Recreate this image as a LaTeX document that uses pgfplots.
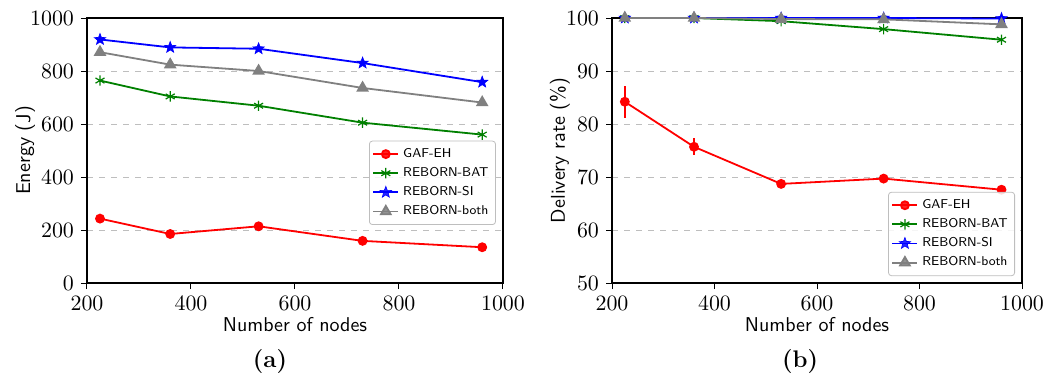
\documentclass[border=0pt]{standalone}
\usepackage{pgfplots}
\pgfplotsset{compat=1.18}
\usetikzlibrary{plotmarks}

\definecolor{mplred}{RGB}{255,0,0}
\definecolor{mplgreen}{RGB}{0,128,0}
\definecolor{mplblue}{RGB}{0,0,255}
\definecolor{mplgray}{RGB}{128,128,128}
\definecolor{gridgray}{RGB}{190,190,190}

% filled five-pointed star
\pgfdeclareplotmark{fstar}{%
  \pgfpathmoveto{\pgfqpointpolar{90}{\pgfplotmarksize}}%
  \foreach \a in {1,...,9}{%
    \pgfmathsetmacro\ang{90+36*\a}%
    \ifodd\a
      \pgfpathlineto{\pgfqpointpolar{\ang}{0.42\pgfplotmarksize}}%
    \else
      \pgfpathlineto{\pgfqpointpolar{\ang}{\pgfplotmarksize}}%
    \fi}%
  \pgfpathclose
  \pgfusepathqfillstroke}

\pgfplotsset{
  common/.style={
    scale only axis,
    width=208pt, height=132.5pt,
    xmin=200, xmax=1000,
    xtick={200,400,600,800,1000},
    axis line style={line width=0.6pt},
    tick align=outside,
    xtick pos=bottom, ytick pos=left,
    major tick length=3pt,
    tick style={black, line width=0.5pt},
    tick label style={font=\fontsize{11}{13}\selectfont},
    /pgf/number format/1000 sep={},
    label style={font=\sffamily\fontsize{10}{12}\selectfont},
    xlabel style={at={(axis description cs:0.5,-0.128)}, anchor=north, inner sep=0pt},
    ymajorgrids,
    major grid style={gridgray, dashed, line width=0.5pt},
    clip=false,
    legend cell align=left,
    legend style={font=\sffamily\fontsize{6.4}{7.7}\selectfont,
      draw=gridgray, rounded corners=1.5pt, fill=white, fill opacity=0.85,
      text opacity=1, inner sep=1.5pt, row sep=-0.5pt},
    legend image code/.code={
      \draw[mark repeat=2,mark phase=2] plot coordinates {(0cm,0cm) (0.22cm,0cm) (0.44cm,0cm)};},
  },
  gaf/.style={color=mplred, line width=0.9pt, mark=*, mark size=2pt},
  bat/.style={color=mplgreen, line width=0.9pt, mark=asterisk, mark size=2.6pt, mark options={line width=0.6pt}},
  si/.style={color=mplblue, line width=0.9pt, mark=fstar, mark size=3pt, mark options={fill=mplblue, line width=0.3pt}},
  both/.style={color=mplgray, line width=0.9pt, mark=triangle*, mark size=2.8pt},
}

\begin{document}
\begin{tikzpicture}
% (a) energy consumption
\begin{axis}[common, at={(0,0)},
  ymin=0, ymax=1000, ytick={0,200,400,600,800,1000},
  xlabel={Number of nodes}, ylabel={Energy (J)},
  ylabel style={at={(axis description cs:-0.149,0.5)}, anchor=center},
  legend style={at={(0.983,0.219)}, anchor=south east}]
\addplot[gaf] coordinates {(225,243) (360,185) (530,214) (730,159) (960,135)};
\addlegendentry{GAF-EH}
\addplot[bat] coordinates {(225,764) (360,704) (530,669) (730,605) (960,560)};
\addlegendentry{REBORN-BAT}
\addplot[si] coordinates {(225,919) (360,889) (530,884) (730,830) (960,758)};
\addlegendentry{REBORN-SI}
\addplot[both] coordinates {(225,871) (360,824) (530,800) (730,736) (960,681)};
\addlegendentry{REBORN-both}
\end{axis}
\node[font=\bfseries\fontsize{12}{14}\selectfont] at (91.5pt,-39.5pt) {(a)};

% (b) delivery rate
\begin{axis}[common, at={(262.5pt,0)}, width=205pt,
  ymin=50, ymax=100, ytick={50,60,70,80,90,100},
  xlabel={Number of nodes}, ylabel={Delivery rate (\%)},
  ylabel style={at={(axis description cs:-0.127,0.5)}, anchor=center},
  legend style={at={(0.983,0.026)}, anchor=south east}]
\addplot[gaf, error bars/.cd, y dir=both, y explicit,
  error bar style={line width=0.9pt}, error mark=none]
  coordinates {(225,84.2) +- (0,3.0) (360,75.7) +- (0,1.6) (530,68.7) +- (0,0.3) (730,69.7) +- (0,0.45) (960,67.6) +- (0,0.35)};
\addlegendentry{GAF-EH}
\addplot[bat] coordinates {(225,100) (360,100) (530,99.4) (730,97.9) (960,95.9)};
\addlegendentry{REBORN-BAT}
\addplot[si] coordinates {(225,100) (360,100) (530,100) (730,100) (960,99.9)};
\addlegendentry{REBORN-SI}
\addplot[both] coordinates {(225,100) (360,100) (530,99.8) (730,99.75) (960,98.8)};
\addlegendentry{REBORN-both}
\end{axis}
\node[font=\bfseries\fontsize{12}{14}\selectfont] at (356.5pt,-39.5pt) {(b)};

% fixed frame of the whole figure
\pgfresetboundingbox
\path[use as bounding box] (-43.5pt,-49pt) rectangle (488pt,141.5pt);
\end{tikzpicture}
\end{document}
